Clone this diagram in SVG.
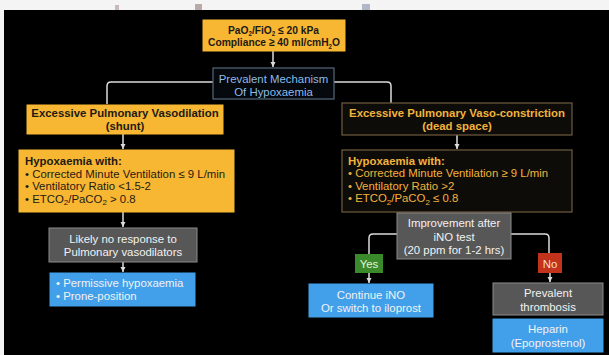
<svg xmlns="http://www.w3.org/2000/svg" width="609" height="355" viewBox="0 0 609 355">
<style>
text{font-family:"Liberation Sans",Arial,sans-serif;font-size:11.4px}
.c{text-anchor:middle}
.b{font-weight:bold}
.dk{fill:#1e1a14}
.gd{fill:#f2b33d}
.wt{fill:#f2f2f2}
.orange{fill:#f7b732;stroke:#f7b732}
.dark{fill:#0e0c09;stroke:#6e5d3f;stroke-width:1.2}
.grey{fill:#575757;stroke:#8c8c8c;stroke-width:1}
.blue{fill:#42a0ea;stroke:#42a0ea}
.conn path{fill:none;stroke:#dcdcdc;stroke-width:1.5}
</style>
<defs>
<marker id="ah" markerUnits="userSpaceOnUse" markerWidth="6" markerHeight="6" refX="5" refY="3" orient="auto">
<path d="M0,0.5 L5,3 L0,5.5 z" fill="#dcdcdc"/>
</marker>
</defs>
<rect x="0" y="0" width="609" height="355" fill="#000"/>
<rect x="0" y="0" width="609" height="10" fill="#f4f4f4"/>
<rect x="0" y="0" width="4" height="355" fill="#f4f4f4"/>
<rect x="115" y="5" width="4" height="5" fill="#c9b9b9"/>
<rect x="195" y="4" width="7" height="6" fill="#b8aaa8"/>
<rect x="362" y="4" width="8" height="6" fill="#b0b8c8"/>

<g class="conn">
<path d="M273,51 V67" marker-end="url(#ah)"/>
<path d="M213,82 H111 Q107,82 107,86 V104"/>
<path d="M334,82 H387 Q391,82 391,86 V103"/>
<path d="M123,134 V149" marker-end="url(#ah)"/>
<path d="M123,212 V227" marker-end="url(#ah)"/>
<path d="M123,262 V272" marker-end="url(#ah)"/>
<path d="M457,135 V149" marker-end="url(#ah)"/>
<path d="M397,234 H373 Q369,234 369,238 V254"/>
<path d="M511,234 H545 Q549,234 549,238 V253"/>
<path d="M369,273 V283" marker-end="url(#ah)"/>
<path d="M550,273 V282" marker-end="url(#ah)"/>
</g>

<g id="criteria">
<rect class="orange" x="203" y="20" width="142" height="31"/>
<text class="b dk" x="228" y="33.5" font-size="10" textLength="91" lengthAdjust="spacingAndGlyphs">PaO<tspan dy="2.5" font-size="6.8">2</tspan><tspan dy="-2.5">/FiO</tspan><tspan dy="2.5" font-size="6.8">2</tspan><tspan dy="-2.5"> ≤ 20 kPa</tspan></text>
<text class="b dk" x="208" y="46" font-size="10" textLength="132" lengthAdjust="spacingAndGlyphs">Compliance ≥ 40 ml/cmH<tspan dy="2.5" font-size="6.8">2</tspan><tspan dy="-2.5">O</tspan></text>
</g>

<g id="mechanism">
<rect x="213" y="68" width="121" height="31" fill="#05080c" stroke="#56687a" stroke-width="1.2"/>
<text class="c" x="273.5" y="83" fill="#8dbbe8">Prevalent Mechanism</text>
<text class="c" x="273.5" y="96" fill="#8dbbe8">Of Hypoxaemia</text>
</g>

<g id="shunt">
<rect class="orange" x="27" y="105" width="196" height="29"/>
<text class="c b dk" x="125" y="117">Excessive Pulmonary Vasodilation</text>
<text class="c b dk" x="125" y="129.5">(shunt)</text>
</g>

<g id="hypox-left">
<rect class="orange" x="19" y="150" width="215" height="62"/>
<text class="b dk" x="25" y="165">Hypoxaemia with:</text>
<text class="dk" x="25" y="177.5">• Corrected Minute Ventilation ≤ 9 L/min</text>
<text class="dk" x="25" y="190">• Ventilatory Ratio &lt;1.5-2</text>
<text class="dk" x="25" y="202.5">• ETCO<tspan dy="2.5" font-size="8">2</tspan><tspan dy="-2.5">/PaCO</tspan><tspan dy="2.5" font-size="8">2</tspan><tspan dy="-2.5"> &gt; 0.8</tspan></text>
</g>

<g id="no-response">
<rect class="grey" x="49" y="228" width="148" height="34"/>
<text class="c wt" x="123" y="243">Likely no response to</text>
<text class="c wt" x="123" y="255.5">Pulmonary vasodilators</text>
</g>

<g id="permissive">
<rect class="blue" x="50" y="273" width="145" height="33"/>
<text class="wt" x="56" y="287">• Permissive hypoxaemia</text>
<text class="wt" x="56" y="300">• Prone-position</text>
</g>

<g id="deadspace">
<rect class="dark" x="342" y="103" width="230" height="32"/>
<text class="c b gd" x="457" y="117">Excessive Pulmonary Vaso-constriction</text>
<text class="c b gd" x="457" y="129.5">(dead space)</text>
</g>

<g id="hypox-right">
<rect class="dark" x="342" y="150" width="230" height="62"/>
<text class="b gd" x="348" y="164.5">Hypoxaemia with:</text>
<text class="gd" x="348" y="177">• Corrected Minute Ventilation ≥ 9 L/min</text>
<text class="gd" x="348" y="189.5">• Ventilatory Ratio &gt;2</text>
<text class="gd" x="348" y="202">• ETCO<tspan dy="2.5" font-size="8">2</tspan><tspan dy="-2.5">/PaCO</tspan><tspan dy="2.5" font-size="8">2</tspan><tspan dy="-2.5"> ≤ 0.8</tspan></text>
</g>

<g id="ino-test">
<rect class="grey" x="397" y="213" width="114" height="46"/>
<text class="c wt" x="454" y="227">Improvement after</text>
<text class="c wt" x="454" y="240.5">iNO test</text>
<text class="c wt" x="454" y="254">(20 ppm for 1-2 hrs)</text>
</g>

<g id="yes">
<rect x="355" y="254" width="28" height="19" fill="#3a8a2c"/>
<text class="c" x="369" y="268" fill="#e4f2d8">Yes</text>
</g>

<g id="no">
<rect x="538" y="253" width="24" height="20" fill="#c2331c"/>
<text class="c" x="550" y="267.5" fill="#f6dccf">No</text>
</g>

<g id="continue">
<rect class="blue" x="309" y="284" width="124" height="33"/>
<text class="c wt" x="371" y="299">Continue iNO</text>
<text class="c wt" x="371" y="312">Or switch to iloprost</text>
</g>

<g id="thrombosis">
<rect class="grey" x="493" y="283" width="110" height="32"/>
<text class="c wt" x="548" y="297">Prevalent</text>
<text class="c wt" x="548" y="311">thrombosis</text>
</g>

<g id="heparin">
<rect class="blue" x="493" y="319" width="110" height="33"/>
<text class="c wt" x="548" y="333">Heparin</text>
<text class="c wt" x="548" y="346.5">(Epoprostenol)</text>
</g>
</svg>
